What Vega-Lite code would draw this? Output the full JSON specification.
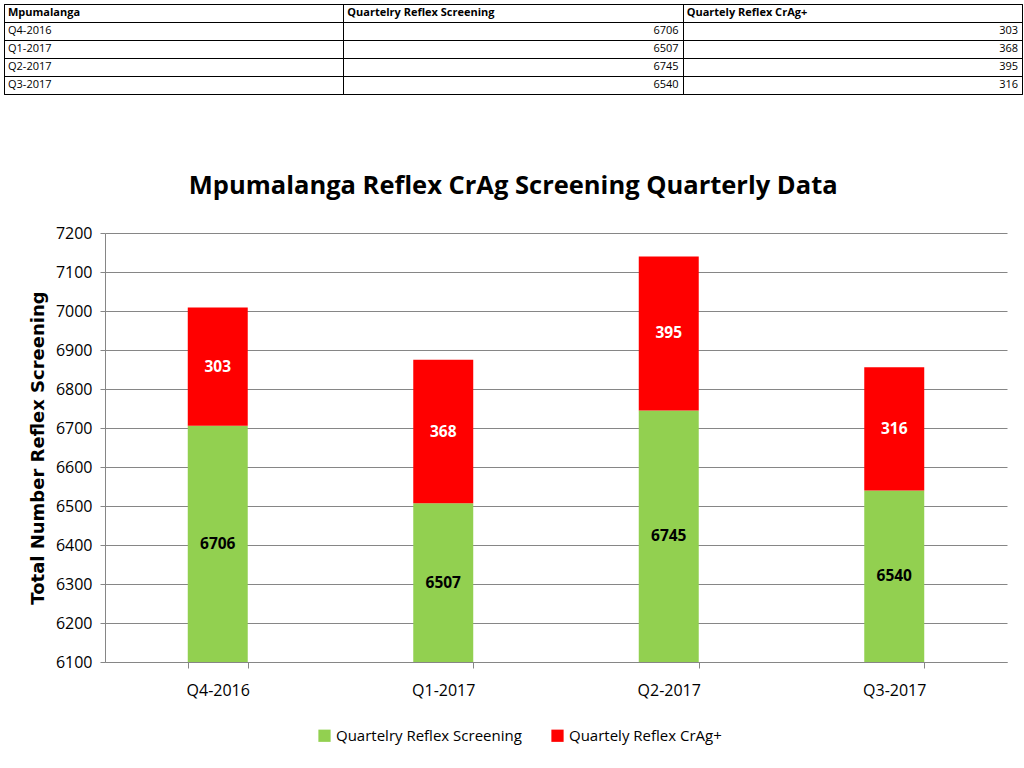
{
  "$schema": "https://vega.github.io/schema/vega-lite/v6.json",
  "padding": {"left": 3, "top": 3, "right": 3, "bottom": 3},
  "background": "white",
  "datasets": {
    "quarters": [
      {"Mpumalanga": "Q4-2016", "Quartelry Reflex Screening": 6706, "Quartely Reflex CrAg+": 303},
      {"Mpumalanga": "Q1-2017", "Quartelry Reflex Screening": 6507, "Quartely Reflex CrAg+": 368},
      {"Mpumalanga": "Q2-2017", "Quartelry Reflex Screening": 6745, "Quartely Reflex CrAg+": 395},
      {"Mpumalanga": "Q3-2017", "Quartelry Reflex Screening": 6540, "Quartely Reflex CrAg+": 316}
    ],
    "headers": [
      {"col": "Mpumalanga"},
      {"col": "Quartelry Reflex Screening"},
      {"col": "Quartely Reflex CrAg+"}
    ],
    "empty": []
  },
  "spacing": 78,
  "vconcat": [
    {
      "width": 1018,
      "height": 90,
      "view": {"stroke": "black", "strokeWidth": 1},
      "layer": [
        {
          "data": {"name": "headers"},
          "mark": {"type": "text", "align": "left", "dx": 4, "fontWeight": "bold", "fontSize": 11, "font": "Open Sans", "color": "black"},
          "encoding": {
            "x": {"field": "col", "type": "nominal", "bandPosition": 0, "sort": null,
              "scale": {"type": "band", "domain": ["Mpumalanga", "Quartelry Reflex Screening", "Quartely Reflex CrAg+"], "paddingInner": 0, "paddingOuter": 0},
              "axis": {"orient": "top", "labels": false, "ticks": false, "domain": false, "grid": true, "gridColor": "black", "gridOpacity": 1, "gridWidth": 1, "tickBand": "extent", "title": null}},
            "y": {"datum": "Mpumalanga", "type": "nominal",
              "scale": {"type": "band", "domain": ["Mpumalanga", "Q4-2016", "Q1-2017", "Q2-2017", "Q3-2017"], "paddingInner": 0, "paddingOuter": 0},
              "axis": {"labels": false, "ticks": false, "domain": false, "grid": true, "gridColor": "black", "gridOpacity": 1, "gridWidth": 1, "tickBand": "extent", "title": null}},
            "text": {"field": "col"}
          }
        },
        {
          "data": {"name": "quarters"},
          "mark": {"type": "text", "align": "left", "dx": 4, "fontSize": 11, "font": "Open Sans", "color": "black"},
          "encoding": {
            "x": {"datum": "Mpumalanga", "type": "nominal", "bandPosition": 0},
            "y": {"field": "Mpumalanga", "type": "nominal"},
            "text": {"field": "Mpumalanga"}
          }
        },
        {
          "data": {"name": "quarters"},
          "transform": [{"fold": ["Quartelry Reflex Screening", "Quartely Reflex CrAg+"], "as": ["key", "value"]}],
          "mark": {"type": "text", "align": "right", "dx": -4, "fontSize": 11, "font": "Open Sans", "color": "black"},
          "encoding": {
            "x": {"field": "key", "type": "nominal", "bandPosition": 1},
            "y": {"field": "Mpumalanga", "type": "nominal"},
            "text": {"field": "value"}
          }
        }
      ]
    },
    {
      "spacing": 20,
      "hconcat": [
        {
          "width": 5,
          "height": 429,
          "data": {"name": "empty"},
          "mark": "point",
          "encoding": {}
        },
        {
          "width": 902,
          "height": 429,
          "title": {"text": "Mpumalanga Reflex CrAg Screening Quarterly Data", "fontSize": 25.5, "font": "Open Sans", "fontWeight": "bold", "anchor": "middle", "frame": "bounds", "dx": -5, "offset": 26, "color": "black"},
          "data": {"name": "quarters"},
          "transform": [
            {"fold": ["Quartelry Reflex Screening", "Quartely Reflex CrAg+"], "as": ["series", "value"]},
            {"stack": "value", "groupby": ["Mpumalanga"], "sort": [{"field": "series", "order": "ascending"}], "as": ["v0", "v1"]},
            {"calculate": "(max(datum.v0, 6100) + datum.v1) / 2", "as": "mid"}
          ],
          "encoding": {
            "x": {"field": "Mpumalanga", "type": "nominal", "sort": null,
              "scale": {"paddingInner": 0.734, "paddingOuter": 0.367},
              "axis": {"title": null, "labelAngle": 0, "labelFont": "Open Sans", "labelFontSize": 16, "labelColor": "black", "labelPadding": 14, "domainColor": "#868686", "tickColor": "#868686", "tickSize": 6, "tickBand": "extent", "grid": false}}
          },
          "layer": [
            {
              "mark": {"type": "bar", "clip": true},
              "encoding": {
                "y": {"field": "v1", "type": "quantitative",
                  "scale": {"domain": [6100, 7200], "zero": false, "nice": false},
                  "axis": {"values": [6100, 6200, 6300, 6400, 6500, 6600, 6700, 6800, 6900, 7000, 7100, 7200], "format": "d", "labelOverlap": false, "labelFont": "Open Sans", "labelFontSize": 16, "labelColor": "black", "labelPadding": 8, "grid": true, "gridColor": "#868686", "gridOpacity": 1, "domainColor": "#868686", "tickColor": "#868686", "tickSize": 5,
                    "title": "Total Number Reflex Screening", "titleFont": "DejaVu Sans", "titleFontSize": 18, "titleFontWeight": "bold", "titleColor": "black", "titlePadding": 8}},
                "y2": {"field": "v0"},
                "color": {"field": "series", "type": "nominal",
                  "scale": {"domain": ["Quartelry Reflex Screening", "Quartely Reflex CrAg+"], "range": ["#92D050", "#FF0000"]},
                  "legend": {"orient": "none", "legendX": 313, "legendY": 724, "direction": "horizontal", "title": null, "symbolType": "square", "symbolSize": 150, "symbolStrokeWidth": 0, "labelFont": "Open Sans", "labelFontSize": 15, "labelColor": "black", "labelLimit": 0, "columnPadding": 28, "symbolOpacity": 1}}
              }
            },
            {
              "mark": {"type": "text", "fontWeight": "bold", "fontSize": 15.5, "font": "Open Sans"},
              "encoding": {
                "y": {"field": "mid", "type": "quantitative",
                  "axis": {"values": [6100, 6200, 6300, 6400, 6500, 6600, 6700, 6800, 6900, 7000, 7100, 7200], "format": "d", "labelOverlap": false, "labelFont": "Open Sans", "labelFontSize": 16, "labelColor": "black", "labelPadding": 8, "grid": true, "gridColor": "#868686", "gridOpacity": 1, "domainColor": "#868686", "tickColor": "#868686", "tickSize": 5,
                    "title": "Total Number Reflex Screening", "titleFont": "DejaVu Sans", "titleFontSize": 18, "titleFontWeight": "bold", "titleColor": "black", "titlePadding": 8}},
                "text": {"field": "value"},
                "color": {"condition": {"test": "datum.series === 'Quartely Reflex CrAg+'", "value": "white"}, "value": "black"}
              }
            }
          ]
        }
      ]
    }
  ],
  "config": {"view": {"stroke": null}}
}
